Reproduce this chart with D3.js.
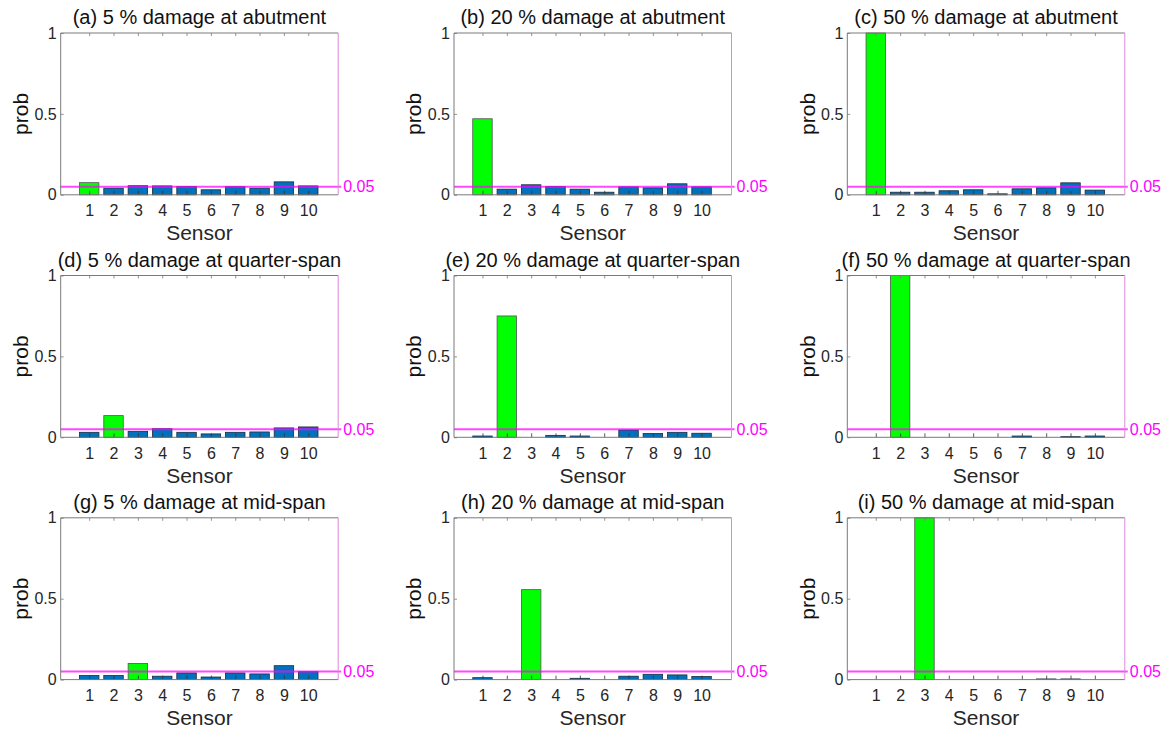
<!DOCTYPE html>
<html>
<head>
<meta charset="utf-8">
<script src="https://cdn.jsdelivr.net/npm/d3@7"></script>
<style>
  html, body { margin: 0; padding: 0; background: #fff; }
  svg { display: block; font-family: "Liberation Sans", Arial, Helvetica, sans-serif; }
</style>
</head>
<body>
<svg id="chart" width="1171" height="729"></svg>
<script>
// Sensor indices along the bridge
const sensors = [1, 2, 3, 4, 5, 6, 7, 8, 9, 10];

// Panel titles, row by row
const titles = [
  "(a) 5 % damage at abutment",
  "(b) 20 % damage at abutment",
  "(c) 50 % damage at abutment",
  "(d) 5 % damage at quarter-span",
  "(e) 20 % damage at quarter-span",
  "(f) 50 % damage at quarter-span",
  "(g) 5 % damage at mid-span",
  "(h) 20 % damage at mid-span",
  "(i) 50 % damage at mid-span"
];

// Sensor nearest to the damage in each case (drawn in green)
const damagedSensor = [1, 1, 1, 2, 2, 2, 3, 3, 3];

// Probability per sensor for each damage case
const probA = [0.075, 0.041, 0.056, 0.055, 0.051, 0.031, 0.050, 0.041, 0.080, 0.055];
const probB = [0.47, 0.035, 0.062, 0.051, 0.035, 0.016, 0.049, 0.043, 0.068, 0.049];
const probC = [1.0, 0.016, 0.016, 0.025, 0.031, 0.006, 0.037, 0.043, 0.074, 0.029];
const probD = [0.031, 0.134, 0.037, 0.053, 0.031, 0.021, 0.031, 0.033, 0.058, 0.064];
const probE = [0.008, 0.75, 0.0, 0.012, 0.008, 0.0, 0.045, 0.023, 0.031, 0.025];
const probF = [0.0, 1.0, 0.0, 0.0, 0.0, 0.0, 0.008, 0.0, 0.004, 0.008];
const probG = [0.025, 0.025, 0.10, 0.021, 0.041, 0.016, 0.041, 0.035, 0.086, 0.049];
const probH = [0.012, 0.0, 0.556, 0.0, 0.008, 0.0, 0.021, 0.033, 0.029, 0.019];
const probI = [0.0, 0.0, 1.0, 0.0, 0.0, 0.0, 0.0, 0.004, 0.004, 0.0];
const probs = [probA, probB, probC, probD, probE, probF, probG, probH, probI];

// Axis ticks and threshold
const yTicks = [0, 0.5, 1];
const threshold = 0.05;
const thresholdLabel = "0.05";

// Layout
const colLeft = [60.7, 454, 847.3];
const rowTop = [33, 275.5, 517.8];
const plotW = 277.5;
const plotH = 161.8;

const blue = "#0072BD";
const green = "#00FF00";
const magenta = "#FF00FF";
const axisGray = "#7a7a7a";
const textFont = "Liberation Sans, Arial, sans-serif";

const svg = d3.select("#chart");

probs.forEach((vals, i) => {
  const col = i % 3, row = Math.floor(i / 3);
  const g = svg.append("g")
    .attr("transform", `translate(${colLeft[col]},${rowTop[row]})`);

  const x = d3.scaleLinear().domain([-0.17, 11.23]).range([0, plotW]);
  const y = d3.scaleLinear().domain([0, 1]).range([plotH, 0]);
  const barW = x(0.8) - x(0);

  // white plot area
  g.append("rect").attr("width", plotW).attr("height", plotH).attr("fill", "#fff");

  // bars
  g.selectAll("rect.bar")
    .data(sensors.map((s, k) => ({ s, v: vals[k] })))
    .join("rect")
    .attr("class", "bar")
    .attr("x", d => x(d.s) - barW / 2)
    .attr("y", d => y(d.v))
    .attr("width", barW)
    .attr("height", d => y(0) - y(d.v))
    .attr("fill", d => d.s === damagedSensor[i] ? green : blue)
    .attr("stroke", d => d.s === damagedSensor[i] ? "#555" : "#1b2a3a")
    .attr("stroke-width", 0.8);

  // threshold line
  g.append("line")
    .attr("x1", 0).attr("x2", plotW + 3)
    .attr("y1", y(threshold)).attr("y2", y(threshold))
    .attr("stroke", magenta).attr("stroke-width", 2)
    .attr("stroke-opacity", 0.72);

  // bottom axis with inward ticks
  const xAxis = d3.axisBottom(x).tickValues(sensors).tickSize(-4).tickPadding(10).tickFormat(d3.format("d"));
  const gx = g.append("g").attr("transform", `translate(0,${plotH})`).call(xAxis);
  gx.select(".domain").remove();
  gx.selectAll(".tick line").attr("stroke", "#333").attr("stroke-width", 0.8);
  gx.selectAll(".tick text").attr("font-size", 16).attr("fill", "#262626")
    .attr("font-family", textFont);

  // top axis ticks
  const xTop = d3.axisTop(x).tickValues(sensors).tickSize(-3).tickFormat("");
  const gt = g.append("g").call(xTop);
  gt.select(".domain").remove();
  gt.selectAll(".tick line").attr("stroke", axisGray).attr("stroke-width", 0.8);

  // left axis
  const yAxis = d3.axisLeft(y).tickValues(yTicks).tickSize(-3).tickPadding(4)
    .tickFormat(d => d === 0.5 ? "0.5" : d3.format("d")(d));
  const gy = g.append("g").call(yAxis);
  gy.select(".domain").remove();
  gy.selectAll(".tick line").attr("stroke", axisGray).attr("stroke-width", 0.8);
  gy.selectAll(".tick text").attr("font-size", 16).attr("fill", "#262626")
    .attr("font-family", textFont);

  // frame: gray on left, top and bottom, light magenta on the right
  g.append("line").attr("x1", 0).attr("x2", 0).attr("y1", 0).attr("y2", plotH)
    .attr("stroke", axisGray).attr("stroke-width", 1);
  g.append("line").attr("x1", 0).attr("x2", plotW).attr("y1", 0).attr("y2", 0)
    .attr("stroke", axisGray).attr("stroke-width", 1);
  g.append("line").attr("x1", 0).attr("x2", plotW).attr("y1", plotH).attr("y2", plotH)
    .attr("stroke", axisGray).attr("stroke-width", 1);
  g.append("line").attr("x1", plotW).attr("x2", plotW).attr("y1", 0).attr("y2", plotH)
    .attr("stroke", "#dd88dd").attr("stroke-width", 1);

  // right-axis threshold label
  g.append("text")
    .attr("x", plotW + 5).attr("y", y(threshold))
    .attr("dy", "0.35em")
    .attr("font-size", 16).attr("fill", magenta)
    .text(thresholdLabel);

  // x label
  g.append("text")
    .attr("x", plotW / 2).attr("y", plotH + 38).attr("dy", "0.35em")
    .attr("text-anchor", "middle").attr("font-size", 21).attr("fill", "#262626")
    .text("Sensor");

  // y label
  g.append("text")
    .attr("transform", `translate(${-40},${plotH / 2}) rotate(-90)`)
    .attr("text-anchor", "middle").attr("dy", "0.35em")
    .attr("font-size", 21).attr("fill", "#111")
    .text("prob");

  // title
  g.append("text")
    .attr("x", plotW / 2).attr("y", -9)
    .attr("text-anchor", "middle").attr("font-size", 20).attr("fill", "#111")
    .text(titles[i]);
});
</script>
</body>
</html>
